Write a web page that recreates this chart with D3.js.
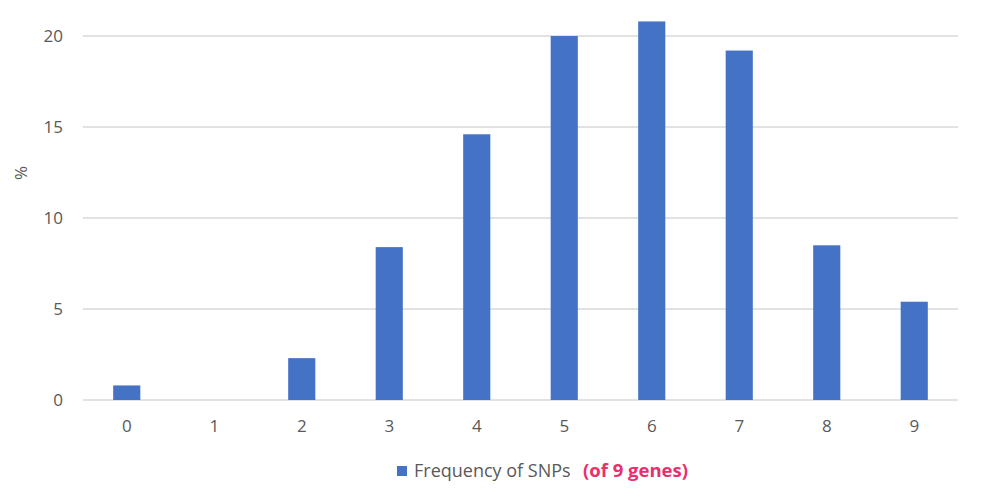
<!DOCTYPE html>
<html>
<head>
<meta charset="utf-8">
<script src="https://cdn.jsdelivr.net/npm/d3@7"></script>
<style>
  body { margin: 0; background: #fff; }
  text { font-family: "Open Sans", "Noto Sans", sans-serif; }
</style>
</head>
<body>
<svg id="chart" width="994" height="502"></svg>
<script>
// number of SNPs per sample (of 9 genes)
var categories = ['0', '1', '2', '3', '4', '5', '6', '7', '8', '9'];
var frequency = [0.8, 0, 2.3, 8.4, 14.6, 20.0, 20.8, 19.2, 8.5, 5.4];
var yTicks = [0, 5, 10, 15, 20];

(function() {
    var svg = d3.select('#chart');
    var m = { left: 83, right: 958, top: 36, bottom: 400 };

    var x = d3.scaleBand()
        .domain(categories)
        .range([m.left, m.right])
        .paddingInner(0.69)
        .paddingOuter(0.345);

    var y = d3.scaleLinear()
        .domain([0, 20])
        .range([m.bottom, m.top]);

    // gridlines
    svg.append('g')
        .selectAll('line')
        .data(yTicks)
        .enter().append('line')
        .attr('x1', m.left)
        .attr('x2', m.right)
        .attr('y1', function(d) { return y(d); })
        .attr('y2', function(d) { return y(d); })
        .attr('stroke', '#d9d9d9')
        .attr('stroke-width', 1.5);

    // y axis labels
    svg.append('g')
        .attr('transform', 'translate(' + (m.left - 20) + ',0)')
        .call(d3.axisLeft(y).tickValues(yTicks).tickSize(0).tickPadding(0))
        .call(function(g) { g.select('.domain').remove(); })
        .selectAll('text')
        .attr('fill', '#595959')
        .style('font-size', '17px');

    // x axis labels
    svg.append('g')
        .attr('transform', 'translate(0,' + (m.bottom + 20) + ')')
        .call(d3.axisBottom(x).tickSize(0).tickPadding(0))
        .call(function(g) { g.select('.domain').remove(); })
        .selectAll('text')
        .attr('fill', '#595959')
        .style('font-size', '17px');

    // bars
    svg.append('g')
        .selectAll('rect')
        .data(frequency)
        .enter().append('rect')
        .attr('x', function(d, i) { return x(categories[i]); })
        .attr('width', x.bandwidth())
        .attr('y', function(d) { return y(d); })
        .attr('height', function(d) { return m.bottom - y(d); })
        .attr('fill', '#4472c4');

    // y title
    svg.append('text')
        .attr('transform', 'translate(27,173) rotate(-90)')
        .attr('text-anchor', 'middle')
        .attr('fill', '#595959')
        .style('font-size', '17px')
        .text('%');

    // legend
    var legend = svg.append('g').attr('transform', 'translate(397,466)');
    legend.append('rect')
        .attr('width', 10)
        .attr('height', 10)
        .attr('fill', '#4472c4');
    legend.append('text')
        .attr('x', 17)
        .attr('y', 11)
        .attr('fill', '#595959')
        .style('font-size', '18px')
        .text('Frequency of SNPs');
    legend.append('text')
        .attr('x', 186)
        .attr('y', 11)
        .attr('fill', '#e8306e')
        .style('font-size', '18.5px')
        .style('font-weight', 'bold')
        .text('(of 9 genes)');
})();
</script>
</body>
</html>
